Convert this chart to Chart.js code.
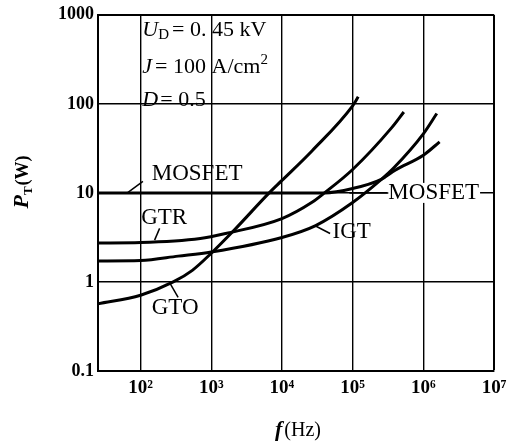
<!DOCTYPE html>
<html>
<head>
<meta charset="utf-8">
<script src="https://cdn.jsdelivr.net/npm/chart.js@4"></script>
<style>
  body { margin: 0; background: #fff; }
</style>
</head>
<body>
<canvas id="lossChart" width="508" height="444"></canvas>
<script>
// switching frequency f (Hz) and total loss P_T (W)
let mosfetF = [25, 1e3, 1e4, 4e4, 1e5, 2.5e5, 4e5, 1e6, 1.7e6];
let mosfetP = [10, 10, 10, 10, 11.2, 14.1, 18, 26.5, 37.4];
let gtrF = [25, 100, 700, 1.6e3, 1e4, 2.7e4, 4e4, 1e5, 3.5e5, 5.3e5];
let gtrP = [2.74, 2.77, 3.07, 3.5, 5.15, 7.9, 10, 18.3, 53, 81];
let igtF = [25, 100, 340, 1e3, 1e4, 3e4, 1e5, 2.5e5, 3.8e5, 1e6, 1.55e6];
let igtP = [1.72, 1.74, 1.95, 2.17, 3.16, 4.3, 7.8, 14, 19, 46, 78];
let gtoF = [25, 100, 290, 540, 1e3, 2.1e3, 6.6e3, 1e4, 2.7e4, 1e5, 1.2e5];
let gtoP = [0.57, 0.71, 1, 1.35, 2.1, 3.8, 10, 13.8, 30, 95, 120];

let xTicks = [1e2, 1e3, 1e4, 1e5, 1e6, 1e7];
let xTickLabels = ['10²', '10³', '10⁴', '10⁵', '10⁶', '10⁷'];
let yTicks = [0.1, 1, 10, 100, 1000];
let yTickLabels = ['0.1', '1', '10', '100', '1000'];

const serif = '"Liberation Serif", "DejaVu Serif", serif';

function toPoints(xs, ys) {
  return xs.map((x, i) => ({ x: x, y: ys[i] }));
}

function curve(label, xs, ys) {
  return {
    label: label,
    data: toPoints(xs, ys),
    borderColor: '#000',
    borderWidth: 3,
    pointRadius: 0,
    fill: false,
    cubicInterpolationMode: 'monotone'
  };
}

// draw a run of text pieces with different fonts one after another
function richText(ctx, x, y, parts) {
  parts.forEach(p => {
    ctx.font = p.font;
    ctx.fillText(p.t, x, y + (p.dy || 0));
    x += ctx.measureText(p.t).width + (p.gap || 0);
  });
  return x;
}

function richWidth(ctx, parts) {
  let w = 0;
  parts.forEach(p => {
    ctx.font = p.font;
    w += ctx.measureText(p.t).width + (p.gap || 0);
  });
  return w;
}

const labelPlugin = {
  id: 'labels',
  afterDraw(chart) {
    const ctx = chart.ctx;
    const xs = chart.scales.x;
    const ys = chart.scales.y;
    const px = f => xs.getPixelForValue(f);
    const py = p => ys.getPixelForValue(p);

    ctx.save();
    ctx.fillStyle = '#000';
    ctx.strokeStyle = '#000';
    ctx.lineWidth = 1.5;
    ctx.textBaseline = 'middle';
    ctx.textAlign = 'left';

    // pointer lines
    const pointers = [
      [65, 10, 108, 13.5],
      [158, 2.95, 186, 4.0],
      [260, 0.97, 340, 0.67],
      [2.9e4, 4.3, 4.8e4, 3.5]
    ];
    pointers.forEach(p => {
      ctx.beginPath();
      ctx.moveTo(px(p[0]), py(p[1]));
      ctx.lineTo(px(p[2]), py(p[3]));
      ctx.stroke();
    });

    const big = '23px ' + serif;
    ctx.font = big;
    ctx.fillText('MOSFET', px(144), py(16.3));
    ctx.fillText('GTR', px(102), py(5.2));
    ctx.fillText('GTO', px(144), py(0.506));
    ctx.fillText('IGT', px(5.2e4), py(3.6));

    // right MOSFET label sits on the 10 W grid line
    const mx = px(3.2e5);
    const my = py(10);
    const mw = ctx.measureText('MOSFET').width;
    ctx.fillStyle = '#fff';
    ctx.fillRect(mx - 1, my - 10, mw + 2, 20);
    ctx.fillStyle = '#000';
    ctx.beginPath();
    ctx.moveTo(px(9e4), my);
    ctx.lineTo(mx, my);
    ctx.stroke();
    ctx.fillText('MOSFET', mx, my);

    // operating conditions
    ctx.textBaseline = 'alphabetic';
    const it = 'italic 22px ' + serif;
    const rm = '22px ' + serif;
    const sub = '15px ' + serif;
    const left = px(106);
    richText(ctx, left, 36, [
      { t: 'U', font: it },
      { t: 'D', font: sub, dy: 3, gap: 3 },
      { t: '= 0. 45 kV', font: rm }
    ]);
    richText(ctx, left, 73, [
      { t: 'J', font: it, gap: 3 },
      { t: '= 100 A/cm', font: rm },
      { t: '2', font: sub, dy: -9 }
    ]);
    richText(ctx, left, 106, [
      { t: 'D', font: it, gap: 2 },
      { t: '= 0.5', font: rm }
    ]);

    // x axis title
    const xParts = [
      { t: 'f', font: 'italic bold 22px ' + serif, gap: 2 },
      { t: '(Hz)', font: '20px ' + serif }
    ];
    const xw = richWidth(ctx, xParts);
    richText(ctx, 298 - xw / 2, 436, xParts);

    // y axis title, rotated
    const yParts = [
      { t: 'P', font: 'italic bold 22px ' + serif },
      { t: 'T', font: 'bold 13px ' + serif, dy: 4, gap: 1 },
      { t: '(W)', font: 'bold 18px ' + serif }
    ];
    const yw = richWidth(ctx, yParts);
    ctx.translate(28, 182);
    ctx.rotate(-Math.PI / 2);
    richText(ctx, -yw / 2, 0, yParts);

    ctx.restore();
  }
};

let ctx = document.getElementById('lossChart').getContext('2d');
let lossChart = new Chart(ctx, {
  type: 'line',
  data: {
    datasets: [
      curve('MOSFET', mosfetF, mosfetP),
      curve('GTR', gtrF, gtrP),
      curve('IGT', igtF, igtP),
      curve('GTO', gtoF, gtoP)
    ]
  },
  options: {
    responsive: false,
    animation: false,
    layout: { padding: { left: 0, right: 14, top: 13, bottom: 0 } },
    plugins: {
      legend: { display: false },
      tooltip: { enabled: false }
    },
    scales: {
      x: {
        type: 'logarithmic',
        min: 25,
        max: 1e7,
        afterBuildTicks: s => { s.ticks = xTicks.map(v => ({ value: v })); },
        afterFit: s => { s.height = 73; s.paddingRight = 0; s.paddingLeft = 0; },
        grid: {
          color: '#000',
          lineWidth: c => (c.tick && c.tick.value === 1e7) ? 2 : 1.4,
          drawTicks: false
        },
        border: { color: '#000', width: 2 },
        ticks: {
          color: '#000',
          padding: 6,
          maxRotation: 0,
          autoSkip: false,
          font: { family: serif, size: 19, weight: 'bold' },
          callback: (v, i) => xTickLabels[i]
        }
      },
      y: {
        type: 'logarithmic',
        min: 0.1,
        max: 1000,
        afterBuildTicks: s => { s.ticks = yTicks.map(v => ({ value: v })); },
        afterFit: s => { s.width = 98; },
        grid: {
          color: '#000',
          lineWidth: c => (c.tick && c.tick.value === 1000) ? 2 : 1.4,
          drawTicks: false
        },
        border: { color: '#000', width: 2 },
        ticks: {
          color: '#000',
          padding: 4,
          autoSkip: false,
          font: { family: serif, size: 18, weight: 'bold' },
          callback: (v, i) => yTickLabels[i]
        }
      }
    }
  },
  plugins: [labelPlugin]
});
</script>
</body>
</html>
